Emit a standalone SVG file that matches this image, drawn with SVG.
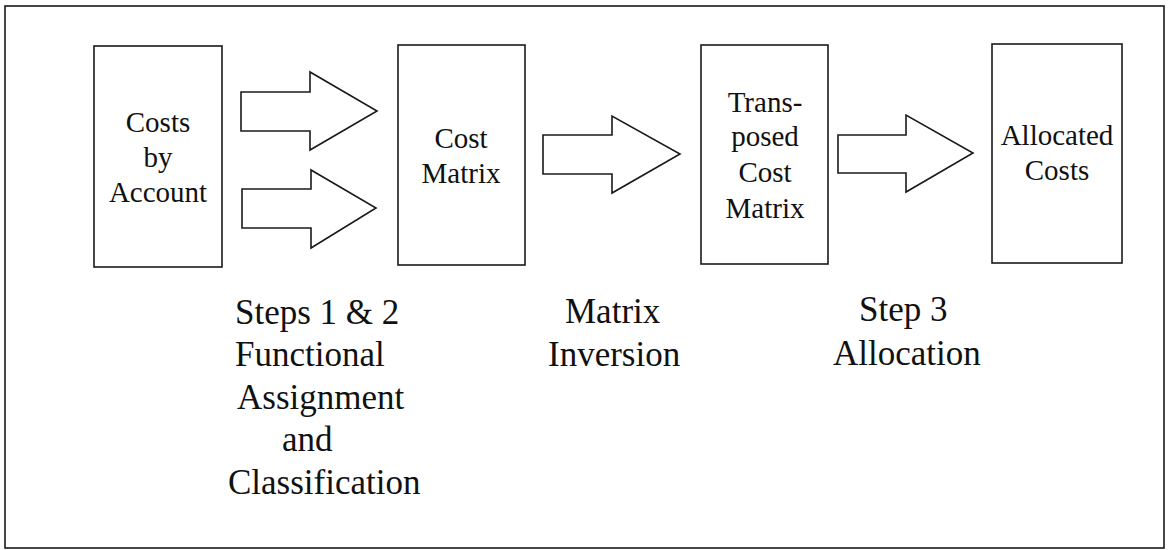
<svg xmlns="http://www.w3.org/2000/svg" width="1168" height="550" viewBox="0 0 1168 550">
<style>
.box{fill:#fff;stroke:#1a1a1a;stroke-width:1.6}
.arr{fill:#fff;stroke:#1a1a1a;stroke-width:1.6;stroke-linejoin:miter}
.bt{font-family:'Liberation Serif','Times New Roman',Times,'DejaVu Serif',serif;font-size:29px;fill:#111;text-anchor:middle}
.lt{font-family:'Liberation Serif','Times New Roman',Times,'DejaVu Serif',serif;font-size:35px;fill:#111}
</style>
<rect x="0" y="0" width="1168" height="550" fill="#fff"/>
<rect x="5" y="6" width="1159" height="542" fill="none" stroke="#1a1a1a" stroke-width="1.6"/>
<g id="n-costs-by-account">
<rect class="box" x="94" y="46" width="128" height="221"/>
<text class="bt" x="158" y="132">Costs</text>
<text class="bt" x="158" y="167">by</text>
<text class="bt" x="158" y="202">Account</text>
</g>
<g id="n-cost-matrix">
<rect class="box" x="398" y="45" width="127" height="220"/>
<text class="bt" x="461" y="148">Cost</text>
<text class="bt" x="461" y="183">Matrix</text>
</g>
<g id="n-transposed">
<rect class="box" x="701" y="45" width="127" height="219"/>
<text class="bt" x="765" y="112">Trans-</text>
<text class="bt" x="765" y="146">posed</text>
<text class="bt" x="765" y="182">Cost</text>
<text class="bt" x="765" y="218">Matrix</text>
</g>
<g id="n-allocated">
<rect class="box" x="992" y="44" width="130" height="219"/>
<text class="bt" x="1057" y="145">Allocated</text>
<text class="bt" x="1057" y="180">Costs</text>
</g>
<g id="connectors">
<polygon class="arr" points="241,92 310,92 310,72 377,111 310,150 310,131 241,131"/>
<polygon class="arr" points="242,189 311,189 311,170 376,208 311,248 311,228 242,228"/>
<polygon class="arr" points="543,135 612,135 612,116 680,154 612,193 612,174 543,174"/>
<polygon class="arr" points="838,135 906,135 906,115 973,153 906,192 906,173 838,173"/>
</g>
<g id="labels">
<text class="lt" x="235" y="324">Steps 1 &amp; 2</text>
<text class="lt" x="235" y="366">Functional</text>
<text class="lt" x="237" y="409">Assignment</text>
<text class="lt" x="282" y="451">and</text>
<text class="lt" x="228" y="494">Classification</text>
<text class="lt" x="565" y="323">Matrix</text>
<text class="lt" x="548" y="366">Inversion</text>
<text class="lt" x="859" y="321">Step 3</text>
<text class="lt" x="833" y="365">Allocation</text>
</g>
</svg>
